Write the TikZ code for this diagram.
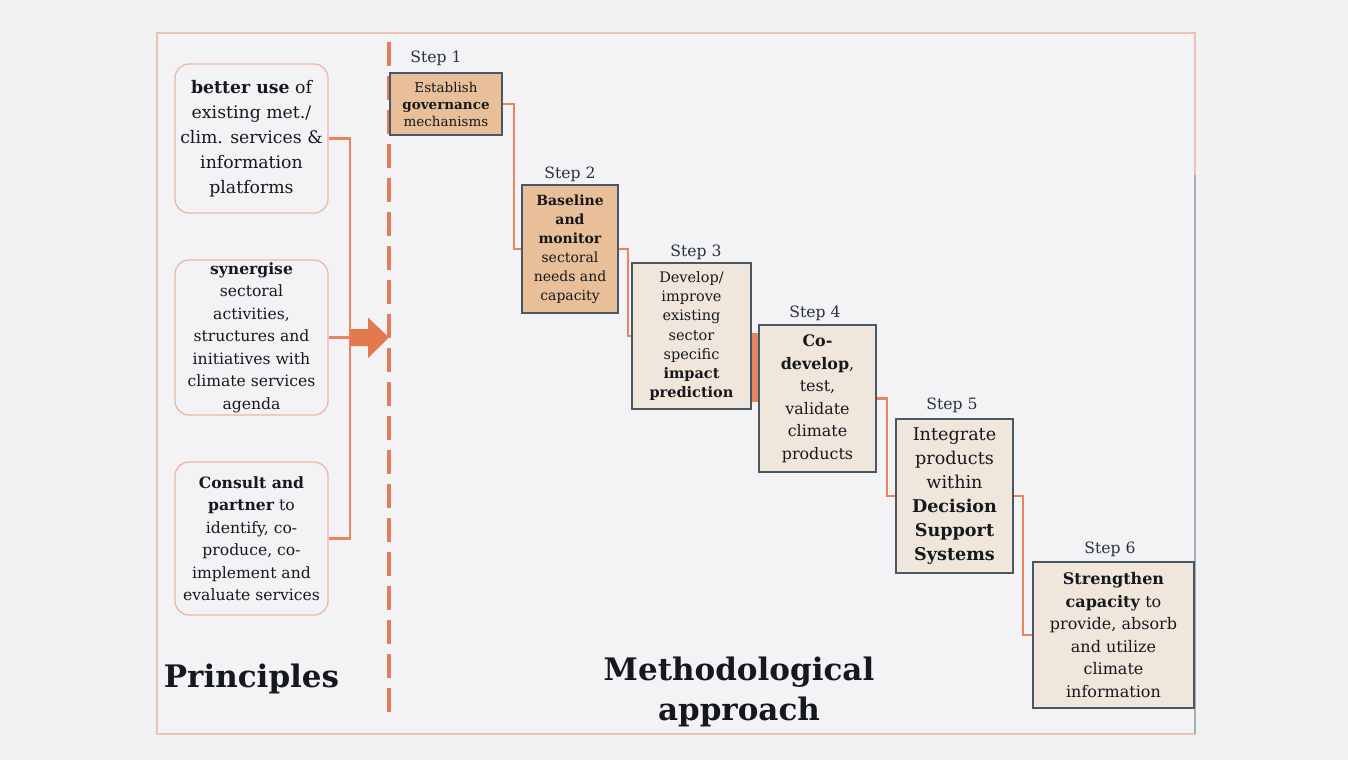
\documentclass[tikz,border=0pt]{standalone}
\usepackage{fontspec}
\setmainfont{DejaVu Serif}
\definecolor{bg}{HTML}{F1F2F4}
\definecolor{bgin}{HTML}{F3F3F5}
\definecolor{framec}{HTML}{EBC3B2}
\definecolor{greyedge}{HTML}{A9B0B5}
\definecolor{dashc}{HTML}{E27D57}
\definecolor{connc}{HTML}{E58660}
\definecolor{arrowc}{HTML}{E4784E}
\definecolor{prinb}{HTML}{EAB9A4}
\definecolor{stepb}{HTML}{4A5864}
\definecolor{tanfill}{HTML}{E8BF98}
\definecolor{lightfill}{HTML}{F1E6DC}
\definecolor{txt}{HTML}{15191D}
\definecolor{lab}{HTML}{26323D}
\pgfdeclarelayer{bgl}
\pgfdeclarelayer{mid}
\pgfsetlayers{bgl,mid,main}
\begin{document}
\begin{tikzpicture}[x=1pt,y=-1pt,
 prin/.style={draw=prinb, line width=1.3pt, rounded corners=14pt, minimum width=153pt, align=center, text=txt, inner sep=0pt, fill=bgin},
 stepbox/.style={draw=stepb, line width=1.8pt, inner sep=0pt, align=center, text=txt},
 steplabel/.style={text=lab, inner sep=0pt, font=\fontsize{15.6}{18}\selectfont},
 conn/.style={draw=connc, line width=2.5pt},
 title/.style={text=txt, align=center, inner sep=0pt, font=\fontsize{31}{40}\selectfont\bfseries}
]
\useasboundingbox (0,0) rectangle (1348,760);
\begin{pgfonlayer}{bgl}
\fill[bg] (0,0) rectangle (1348,760);
\fill[bgin] (157,33) rectangle (1195,734);
\draw[framec, line width=2pt] (157,33) rectangle (1195,734);
\draw[greyedge, line width=2pt] (1195,175) -- (1195,734);
% dashed divider
\draw[dashc, line width=3.5pt, dash pattern=on 24pt off 10pt] (389,42) -- (389,717);
\end{pgfonlayer}

% principles
\node[prin, minimum height=149pt, font=\fontsize{17.3}{25}\selectfont] (p1) at (251.5,138.5)
 {\textbf{better use} of\\existing met./\\clim. services \&\\information\\platforms};
\node[prin, minimum height=155pt, font=\fontsize{15.6}{22.5}\selectfont] (p2) at (251.5,337.5)
 {\textbf{synergise}\\sectoral\\activities,\\structures and\\initiatives with\\climate services\\agenda};
\node[prin, minimum height=153pt, font=\fontsize{15.6}{22.5}\selectfont] (p3) at (251.5,538.5)
 {\textbf{Consult and}\\\textbf{partner} to\\identify, co-\\produce, co-\\implement and\\evaluate services};

\coordinate (j1) at (350,138.5);
\coordinate (j2) at (350,337.5);
\coordinate (j3) at (350,538.5);
\coordinate (tip) at (389,337.5);
\draw[conn] (p1.east) -- (j1) -- (j3) -- (p3.east);
\draw[conn] (p2.east) -- (j2);
\fill[arrowc] (j2) ++(0,-8.5) -- ++(18,0) -- ++(0,-11.5) -- (tip) -- (368,358) -- (368,346) -- (350,346) -- cycle;

% steps
\node[stepbox, fill=tanfill, minimum width=112pt, minimum height=62pt, font=\fontsize{13.5}{17}\selectfont] (s1) at (446,104)
 {Establish\\\textbf{governance}\\mechanisms};
\node[stepbox, fill=tanfill, minimum width=96pt, minimum height=128pt, font=\fontsize{14}{19}\selectfont] (s2) at (570,249)
 {\textbf{Baseline}\\\textbf{and}\\\textbf{monitor}\\sectoral\\needs and\\capacity};
\node[stepbox, fill=lightfill, minimum width=119pt, minimum height=146pt, font=\fontsize{14.5}{19.3}\selectfont] (s3) at (691.5,336)
 {Develop/\\improve\\existing\\sector\\specific\\\textbf{impact}\\\textbf{prediction}};
\node[stepbox, fill=lightfill, minimum width=117pt, minimum height=147pt, font=\fontsize{15.9}{22.5}\selectfont] (s4) at (817.5,398.5)
 {\textbf{Co-}\\\textbf{develop},\\test,\\validate\\climate\\products};
\node[stepbox, fill=lightfill, minimum width=117pt, minimum height=154pt, font=\fontsize{17.6}{24}\selectfont] (s5) at (954.5,496)
 {Integrate\\products\\within\\\textbf{Decision}\\\textbf{Support}\\\textbf{Systems}};
\node[stepbox, fill=lightfill, minimum width=161pt, minimum height=146pt, font=\fontsize{16}{22.5}\selectfont] (s6) at (1113.5,635)
 {\textbf{Strengthen}\\\textbf{capacity} to\\provide, absorb\\and utilize\\climate\\information};

\node[steplabel] (l1) at (436,58) {Step 1};
\node[steplabel] (l2) at (570,174) {Step 2};
\node[steplabel] (l3) at (696,252) {Step 3};
\node[steplabel] (l4) at (815,313) {Step 4};
\node[steplabel] (l5) at (952,405) {Step 5};
\node[steplabel] (l6) at (1110,549) {Step 6};

\begin{pgfonlayer}{mid}
\draw[conn] (s1.east) -- ++(11,0) |- (s2.west);
\draw[conn] (s2.east) -- ++(9,0) |- (s3.west);
\draw[conn, line width=7pt] (s3.east) -- ++(4,0) |- (s4.west);
\draw[conn] (s4.east) -- ++(10,0) |- (s5.west);
\draw[conn] (s5.east) -- ++(9,0) |- (s6.west);
\end{pgfonlayer}

% titles
\node[title] (tp) at (251.5,679) {Principles};
\node[title] (tm) at (739,692) {Methodological\\approach};
\end{tikzpicture}
\end{document}
